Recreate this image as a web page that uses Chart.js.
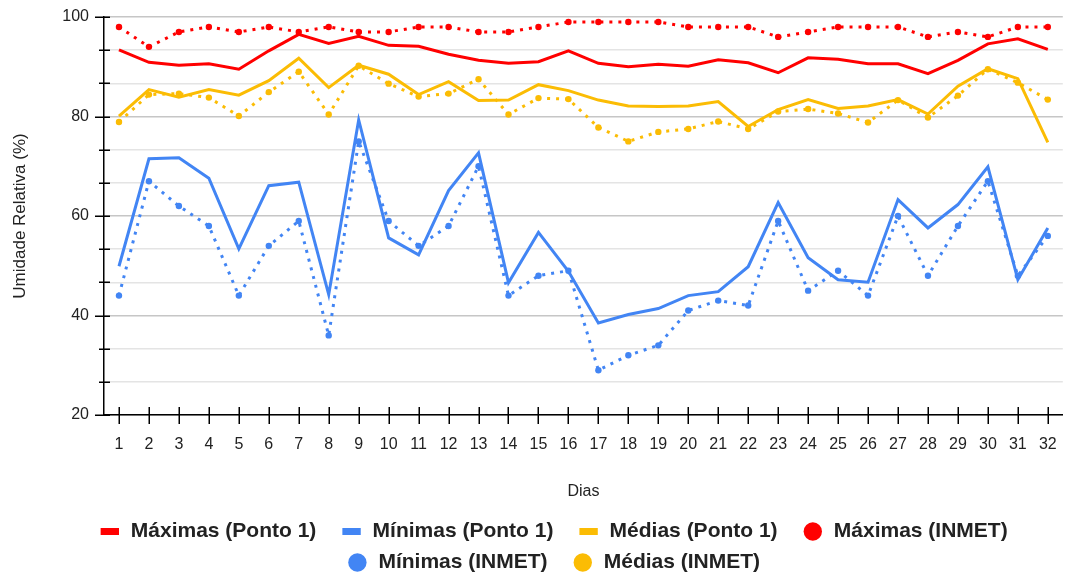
<!DOCTYPE html>
<html>
<head>
<meta charset="utf-8">
<script src="https://cdn.jsdelivr.net/npm/chart.js@4"></script>
<style>
  html, body { margin: 0; padding: 0; background: #ffffff; }
  #wrap { width: 1066px; height: 578px; position: relative; }
</style>
</head>
<body>
<div id="wrap"><canvas id="c" width="1066" height="578"></canvas></div>
<script>
const days = Array.from({length: 32}, (_, i) => String(i + 1));

const maxPonto1 = [93.4, 90.9, 90.3, 90.6, 89.5, 93.2, 96.5, 94.7, 96.1, 94.3, 94.1, 92.5, 91.3, 90.7, 91.0, 93.2,
                   90.7, 90.0, 90.5, 90.1, 91.4, 90.8, 88.8, 91.8, 91.5, 90.6, 90.6, 88.6, 91.3, 94.6, 95.6, 93.5];
const minPonto1 = [49.9, 71.5, 71.7, 67.6, 53.4, 66.1, 66.8, 44.2, 79.3, 55.6, 52.2, 65.1, 72.7, 46.6, 56.7, 48.9,
                   38.5, 40.2, 41.4, 44.0, 44.8, 49.8, 62.7, 51.6, 47.2, 46.7, 63.3, 57.6, 62.3, 69.9, 47.2, 57.6];
const medPonto1 = [80.1, 85.4, 83.9, 85.4, 84.3, 87.2, 91.7, 85.8, 90.3, 88.5, 84.4, 87.0, 83.2, 83.3, 86.4, 85.2,
                   83.3, 82.1, 82.0, 82.1, 83.0, 78.0, 81.4, 83.4, 81.6, 82.1, 83.4, 80.5, 86.1, 89.6, 87.6, 74.8];
const maxInmet  = [98, 94, 97, 98, 97, 98, 97, 98, 97, 97, 98, 98, 97, 97, 98, 99,
                   99, 99, 99, 98, 98, 98, 96, 97, 98, 98, 98, 96, 97, 96, 98, 98];
const minInmet  = [44, 67, 62, 58, 44, 54, 59, 36, 75, 59, 54, 58, 70, 44, 48, 49,
                   29, 32, 34, 41, 43, 42, 59, 45, 49, 44, 60, 48, 58, 67, 48, 56];
const medInmet  = [78.9, 84.4, 84.6, 83.8, 80.1, 84.9, 89.0, 80.4, 90.2, 86.6, 84.0, 84.6, 87.5, 80.4, 83.7, 83.5,
                   77.8, 75.0, 76.9, 77.5, 79.0, 77.5, 81.0, 81.5, 80.6, 78.8, 83.3, 79.8, 84.2, 89.5, 86.8, 83.4];

const yMin = 20, yMax = 100, yStep = 20 / 3, yLabelStep = 20;

const seriesNames = ['Máximas (Ponto 1)', 'Mínimas (Ponto 1)', 'Médias (Ponto 1)',
                     'Máximas (INMET)', 'Mínimas (INMET)', 'Médias (INMET)'];
const RED = '#ff0000', BLUE = '#4285f4', YELLOW = '#fbbc04';

const FONT = '"Liberation Sans", Arial, Helvetica, sans-serif';
const TXT = '#222222';

function solid(label, data, color, idx) {
  return { label, data, borderColor: color, backgroundColor: color, borderWidth: 3,
           pointRadius: 0, pointHoverRadius: 0, tension: 0, fill: false, order: 10 - idx, inmet: false };
}
function dotted(label, data, color, idx) {
  return { label, data, borderColor: color, backgroundColor: color, borderWidth: 3,
           borderDash: [3, 6], pointRadius: 3.2, pointBorderWidth: 0, pointBackgroundColor: color,
           pointHoverRadius: 3.2, tension: 0, fill: false, order: 10 - idx, inmet: true };
}

const isMajor = v => Math.abs((v - yMin) / yLabelStep - Math.round((v - yMin) / yLabelStep)) < 1e-6;

function zeroPad(scale) {
  scale.paddingTop = 0; scale.paddingBottom = 0; scale.paddingLeft = 0; scale.paddingRight = 0;
}

const tickMarks = {
  id: 'tickMarks',
  afterDraw(chart) {
    const ctx = chart.ctx;
    const xs = chart.scales.x, ys = chart.scales.y;
    const a = chart.chartArea;
    ctx.save();
    ctx.strokeStyle = '#000';
    ctx.lineWidth = 1.5;
    ctx.beginPath();
    ys.ticks.forEach(t => {
      const y = Math.round(ys.getPixelForValue(t.value)) + 0.25;
      if (isMajor(t.value)) { ctx.moveTo(a.left - 9, y); ctx.lineTo(a.left + 6, y); }
      else { ctx.moveTo(a.left - 5, y); ctx.lineTo(a.left + 6, y); }
    });
    xs.ticks.forEach((t, i) => {
      const x = Math.round(xs.getPixelForTick(i)) + 0.25;
      ctx.moveTo(x, a.bottom - 8);
      ctx.lineTo(x, a.bottom + 9);
    });
    ctx.stroke();
    ctx.restore();
  }
};

const cfg = {
  type: 'line',
  data: {
    labels: days,
    datasets: [
      solid(seriesNames[0], maxPonto1, RED, 0),
      solid(seriesNames[1], minPonto1, BLUE, 1),
      solid(seriesNames[2], medPonto1, YELLOW, 2),
      dotted(seriesNames[3], maxInmet, RED, 3),
      dotted(seriesNames[4], minInmet, BLUE, 4),
      dotted(seriesNames[5], medInmet, YELLOW, 5)
    ]
  },
  options: {
    responsive: false,
    animation: false,
    devicePixelRatio: 1,
    layout: { padding: { left: 44, right: 3, top: 17, bottom: -5 } },
    plugins: {
      tooltip: { enabled: false },
      legend: {
        position: 'bottom',
        align: 'center',
        labels: {
          usePointStyle: true,
          boxWidth: 21,
          boxHeight: 13,
          padding: 10,
          color: TXT,
          font: { family: FONT, size: 21, weight: 'bold' },
          sort: (a, b) => a.datasetIndex - b.datasetIndex,
          generateLabels(chart) {
            const items = Chart.defaults.plugins.legend.labels.generateLabels(chart);
            items.sort((a, b) => a.datasetIndex - b.datasetIndex);
            items.forEach(it => {
              const ds = chart.data.datasets[it.datasetIndex];
              it.lineDash = [];
              it.lineDashOffset = 0;
              if (ds.inmet) {
                it.pointStyle = 'circle';
                it.fillStyle = ds.borderColor;
                it.strokeStyle = ds.borderColor;
                it.lineWidth = 0;
              } else {
                it.pointStyle = 'line';
                it.fillStyle = ds.borderColor;
                it.strokeStyle = ds.borderColor;
                it.lineWidth = 7;
                it.lineCap = 'butt';
              }
              if (it.datasetIndex !== 3 && it.datasetIndex !== 5) it.text = it.text + '\u2002\u2009';
            });
            return items;
          }
        }
      }
    },
    scales: {
      x: {
        offset: true,
        grid: { display: false, drawTicks: false },
        border: { display: true, color: '#000', width: 1.5 },
        ticks: { color: TXT, font: { family: FONT, size: 16 }, padding: 20, autoSkip: false, maxRotation: 0 },
        title: { display: true, text: 'Dias', color: TXT, font: { family: FONT, size: 16 },
                 padding: { top: 0, bottom: 10 } },
        afterFit(scale) { scale.height = 96; zeroPad(scale); }
      },
      y: {
        min: yMin,
        max: yMax,
        afterBuildTicks(scale) {
          const t = [];
          for (let i = 0; i <= Math.round((yMax - yMin) / yStep); i++) t.push({ value: yMin + i * yStep });
          scale.ticks = t;
        },
        grid: {
          drawTicks: false,
          lineWidth: 1.5,
          color: c => (c.tick && isMajor(c.tick.value)) ? '#c6c6c6' : '#e4e4e4'
        },
        border: { display: true, color: '#000', width: 1.5 },
        ticks: {
          color: TXT, font: { family: FONT, size: 16 }, padding: 15, autoSkip: false,
          callback: v => isMajor(v) ? String(Math.round(v)) : ''
        },
        title: { display: true, text: 'Umidade Relativa (%)', color: TXT, font: { family: FONT, size: 17 },
                 padding: { top: -34, bottom: 0 } },
        afterFit(scale) { scale.width = 60; zeroPad(scale); }
      }
    }
  },
  plugins: [tickMarks]
};

new Chart(document.getElementById('c'), cfg);
</script>
</body>
</html>
